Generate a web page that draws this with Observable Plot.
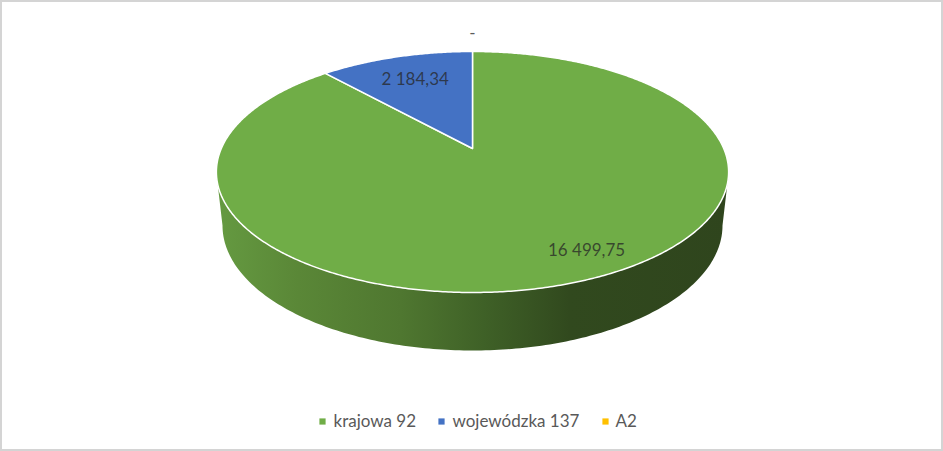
<!DOCTYPE html>
<html>
<head>
<meta charset="utf-8">
<script src="https://cdn.jsdelivr.net/npm/d3@7"></script>
<script src="https://cdn.jsdelivr.net/npm/@observablehq/plot@0.6"></script>
<style>html,body{margin:0;padding:0;background:#fff}svg{display:block}</style>
</head>
<body>
<div id="chart"></div>
<script>
const categories = ["krajowa 92", "wojewódzka 137", "A2"];
const seriesValues = [16499.75, 2184.34, 0];
const valueLabels = ["16 499,75", "2 184,34", "-"];
const colors = ["#70AD47", "#4472C4", "#FFC000"];
// label placement in disk coordinates: clockwise angle from 12 o'clock (deg), radius fraction
const labelAngles = [152.7, -21, 0];
const labelRadii = [0.845, 0.72, 1.23];

const W = 943, H = 451;
// perspective disk projection
const persp = {cx: 472, k: 251.2, a: -87.05, b: 148, c: 0.195};
const project = (deg, r) => {
  const t = deg * Math.PI / 180, u = r * Math.sin(t), v = r * Math.cos(t), w = 1 + persp.c * v;
  return {x: persp.cx + persp.k * u / w, y: (persp.a * v + persp.b) / w};
};
const bottomRim = {cx: 472, cy: 225, rx: 250, ry: 125};

// slices, drawn clockwise ending at 12 o'clock with the small slice just before it
const total = d3.sum(seriesValues);
const smallSweep = 360 * seriesValues[1] / total;
const spans = [
  {name: categories[0], from: 0, to: 360 - smallSweep},
  {name: categories[1], from: 360 - smallSweep, to: 360}
];
const slicePts = spans.flatMap(s => {
  const n = Math.ceil((s.to - s.from) * 2);
  const arc = d3.range(n + 1).map(i => ({name: s.name, ...project(s.from + (s.to - s.from) * i / n, 1)}));
  const apex = {name: s.name, ...project(0, 0)};
  return [apex, ...arc, apex];
});

// side wall: front half of top rim, then the bottom rim back again
const frontTop = d3.range(0, 361).map(i => project(i, 1)).filter(p => p.y > 171);
frontTop.sort((p, q) => p.x - q.x);
const frontBottom = d3.range(0, 181).map(i => {
  const t = i * Math.PI / 180;
  return {x: bottomRim.cx + bottomRim.rx * Math.cos(t), y: bottomRim.cy + bottomRim.ry * Math.sin(t)};
});
const wallPts = [...frontTop, ...frontBottom, frontTop[0]];

const labelRows = categories.map((c, i) => ({
  name: c, text: valueLabels[i], ...project(labelAngles[i], labelRadii[i])
}));

const legendText = [333, 452, 615];
const legendSwatch = [322, 441, 605];
const legendRows = categories.map((c, i) => ({name: c, tx: legendText[i], sx: legendSwatch[i], y: 421}));

const gradient = () => {
  const defs = d3.create("svg:defs");
  const g = defs.append("linearGradient").attr("id", "wall").attr("x1", 0).attr("x2", 1).attr("y1", 0).attr("y2", 0);
  [[0, "#659a41"], [0.16, "#5a8737"], [0.36, "#4f7730"], [0.52, "#3f6127"], [0.69, "#31491e"], [1, "#2f451d"]]
    .forEach(([o, c]) => g.append("stop").attr("offset", o).attr("stop-color", c));
  return defs.node();
};

const plot = Plot.plot({
  width: W, height: H,
  margin: 0,
  style: {fontFamily: "Lato, sans-serif", background: "#fff"},
  x: {domain: [0, W], range: [0, W], axis: null},
  y: {domain: [0, H], range: [0, H], axis: null},
  color: {domain: categories, range: colors},
  marks: [
    gradient,
    Plot.rectY([0], {x1: 1, x2: 942, y1: 1, y2: 450, fill: "none", stroke: "#d4d4d4", strokeWidth: 2}),
    Plot.line(wallPts, {x: "x", y: "y", fill: "url(#wall)", stroke: "none", curve: "linear"}),
    Plot.line(slicePts, {x: "x", y: "y", z: "name", fill: "name", stroke: "#fff", strokeWidth: 1.5, strokeLinejoin: "round", curve: "linear"}),
    Plot.text(labelRows, {x: "x", y: "y", text: "text", fontSize: 17, fill: "#262626", fillOpacity: 0.75, textAnchor: "middle"}),
    Plot.dot(legendRows, {x: "sx", y: "y", fill: "name", symbol: "square", r: 3.5}),
    Plot.text(legendRows, {x: "tx", y: "y", text: "name", fontSize: 17, fill: "#595959", textAnchor: "start"})
  ]
});
document.getElementById("chart").append(plot);
</script>
</body>
</html>
